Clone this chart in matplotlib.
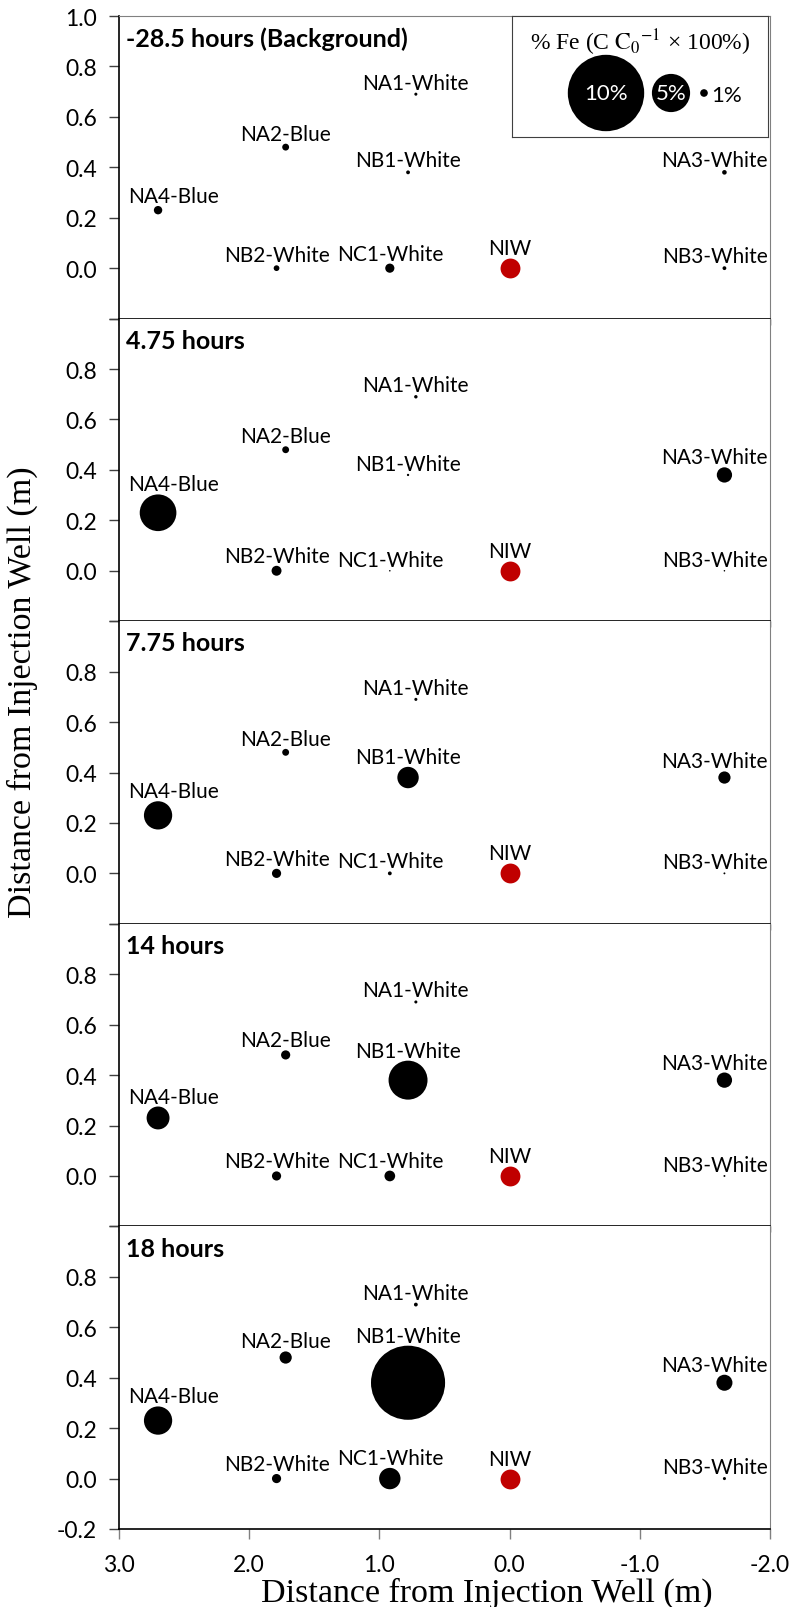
import matplotlib.pyplot as plt
import numpy as np

plt.rcParams['font.family'] = ['Lato', 'DejaVu Sans']
plt.rcParams['mathtext.fontset'] = 'stix'

# sampling wells: name, distance from injection well (m), offset across (m)
wells = ['NA1-White', 'NA2-Blue', 'NB1-White', 'NA3-White',
         'NA4-Blue', 'NB2-White', 'NC1-White', 'NB3-White']
well_x = [0.72, 1.72, 0.78, -1.65, 2.70, 1.79, 0.92, -1.65]
well_y = [0.69, 0.48, 0.38, 0.38, 0.23, 0.0, 0.0, 0.0]

# injection well
niw_x, niw_y, niw_size = 0.0, 0.0, 2.6

times = ['-28.5 hours (Background)', '4.75 hours', '7.75 hours',
         '14 hours', '18 hours']

# % Fe (C/C0 x 100) at each well, one list per sampling time
fe_bg = [0.4, 0.9, 0.5, 0.6, 1.1, 0.75, 1.2, 0.5]
fe_475 = [0.45, 0.9, 0.3, 2.0, 4.8, 1.3, 0.2, 0.2]
fe_775 = [0.4, 0.9, 2.8, 1.6, 3.7, 1.2, 0.5, 0.25]
fe_14 = [0.4, 1.2, 5.1, 2.0, 3.0, 1.2, 1.4, 0.25]
fe_18 = [0.5, 1.6, 9.7, 2.1, 3.7, 1.2, 2.8, 0.4]
fe_all = [fe_bg, fe_475, fe_775, fe_14, fe_18]

legend_pct = [10, 5, 1]

PT_PER_PCT = 5.5   # bubble diameter in points per 1 % Fe


def bubble_area(v):
    return (np.asarray(v) * PT_PER_PCT) ** 2


W, H = 791, 1608
fig = plt.figure(figsize=(W / 100, H / 100), dpi=100)
left, right = 119 / W, 770 / W
top, bottom = 1 - 17 / H, 1 - 1530 / H
ph = (top - bottom) / 5

axes = []
for i in range(5):
    ax = fig.add_axes([left, top - (i + 1) * ph, right - left, ph])
    axes.append(ax)

labels = []   # (axes, annotation) pairs, kept inside the plot area later
for i, (ax, fe) in enumerate(zip(axes, fe_all)):
    ax.set_xlim(3.0, -2.0)
    ax.set_ylim(-0.2, 1.0)

    ax.scatter(well_x, well_y, s=bubble_area(fe), c='black',
               linewidths=0, zorder=3)
    ax.scatter([niw_x], [niw_y], s=bubble_area([niw_size]), c='#C00000',
               linewidths=0, zorder=3)

    for name, x, y, v in zip(wells, well_x, well_y, fe):
        r = v * PT_PER_PCT / 2
        a = ax.annotate(name, (x, y), xytext=(0, r),
                        textcoords='offset points', ha='center', va='bottom',
                        fontsize=15, zorder=4, annotation_clip=False)
        labels.append((ax, a))
    r = niw_size * PT_PER_PCT / 2
    ax.annotate('NIW', (niw_x, niw_y), xytext=(0, r),
                textcoords='offset points', ha='center', va='bottom',
                fontsize=15, zorder=4)

    ax.text(0.011, 0.928, times[i], transform=ax.transAxes,
            fontsize=18, fontweight='bold', ha='left', va='center')

    # y ticks
    yt = [-0.2, 0.0, 0.2, 0.4, 0.6, 0.8, 1.0]
    ylab = ['', '0.0', '0.2', '0.4', '0.6', '0.8', '']
    if i == 0:
        ylab[-1] = '1.0'
    if i == 4:
        ylab[0] = '-0.2'
    ax.set_yticks(yt)
    ax.set_yticklabels(ylab)
    ax.tick_params(axis='y', direction='out', length=7, width=1,
                   color='#404040', labelsize=16.5, pad=9)

    # x ticks
    if i == 4:
        ax.set_xticks([3, 2, 1, 0, -1, -2])
        ax.set_xticklabels(['3.0', '2.0', '1.0', '0.0', '-1.0', '-2.0'])
        ax.tick_params(axis='x', direction='out', length=7, width=1,
                       color='#808080', labelsize=16.5, pad=11)
    else:
        ax.set_xticks(np.arange(3.0, -2.01, -0.5))
        ax.tick_params(axis='x', direction='out', length=4, width=1,
                       color='#404040', labelbottom=False)

    ax.spines['left'].set_color('black')
    ax.spines['left'].set_linewidth(1.2)
    ax.spines['bottom'].set_color('black')
    ax.spines['bottom'].set_linewidth(1.2)
    ax.spines['right'].set_color('#808080')
    ax.spines['right'].set_linewidth(0.8)
    if i == 0:
        ax.spines['top'].set_color('#808080')
        ax.spines['top'].set_linewidth(0.8)
    else:
        ax.spines['top'].set_visible(False)

# size key in the top panel
lax = fig.add_axes([512 / W, 1 - 138 / H, 256 / W, 121 / H])
lax.set_xlim(0, 256)
lax.set_ylim(121, 0)
lax.set_xticks([])
lax.set_yticks([])
for s in lax.spines.values():
    s.set_color('#404040')
    s.set_linewidth(0.8)
lax.text(128, 26, r'% Fe (C $\mathrm{C_0{}^{-1}}$ × 100%)',
         family='Liberation Serif', fontsize=17, ha='center', va='center')
key_x = [94, 159, 192]
lax.scatter(key_x, [77] * 3, s=bubble_area(legend_pct), c='black',
            linewidths=0)
lax.text(key_x[0], 77, '10%', color='white', fontsize=16,
         ha='center', va='center')
lax.text(key_x[1], 77, '5%', color='white', fontsize=16,
         ha='center', va='center')
lax.text(key_x[2] + 7, 79, '1%', color='black', fontsize=16,
         ha='left', va='center')

fig.text(487 / W, 1 - 1593 / H, 'Distance from Injection Well (m)',
         family='Liberation Serif', fontsize=24.5, ha='center', va='center')
fig.text(22 / W, 1 - 692 / H, 'Distance from Injection Well (m)',
         family='Liberation Serif', fontsize=24.5, ha='center', va='center',
         rotation=90)

# push well labels back inside the plot area when they run past an edge
fig.canvas.draw()
renderer = fig.canvas.get_renderer()
for ax, a in labels:
    bb = a.get_window_extent(renderer)
    abb = ax.get_window_extent(renderer)
    dx = 0.0
    if bb.x0 < abb.x0 + 9:
        dx = abb.x0 + 9 - bb.x0
    elif bb.x1 > abb.x1 - 2:
        dx = abb.x1 - 2 - bb.x1
    if dx:
        ox, oy = a.xyann
        a.xyann = (ox + dx * 72 / fig.dpi, oy)

fig.savefig('out.png', dpi=100)
